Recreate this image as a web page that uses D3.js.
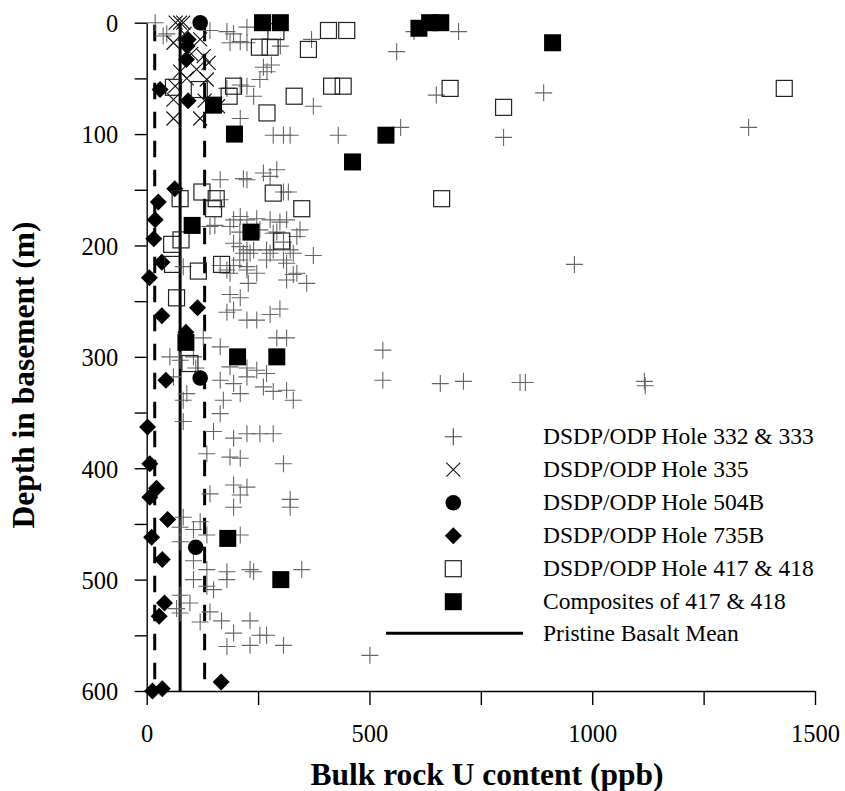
<!DOCTYPE html>
<html>
<head>
<meta charset="utf-8">
<script src="https://cdn.jsdelivr.net/npm/d3@7"></script>
<style>
  html, body { margin: 0; padding: 0; background: #fff; }
  svg { display: block; font-family: "Liberation Serif", "Times New Roman", serif; }
</style>
</head>
<body>
<svg id="chart" width="845" height="791"></svg>
<script>
// ---------- data (U ppb, depth m) ----------
const hole332_333 = [
  [19,0],[45,10],[37,12],[142,7],[180,8],[195,10],[225,4],[187,18],[210,17],[225,18],[300,21],[370,15],
  [561,26],[600,8],[700,8],[270,44],[262,40],[280,38],[254,51],[180,59],[210,56],[225,57],[240,66],
  [374,75],[210,86],[284,101],[307,101],[322,101],[430,101],[570,94],[650,65],[891,63],[801,103],[1351,94],
  [165,141],[217,140],[262,135],[277,138],[292,132],[225,141],[307,152],[318,152],[165,159],[210,174],
  [153,182],[195,177],[225,177],[247,176],[277,177],[299,179],[314,177],[187,183],[209,188],[292,188],
  [344,186],[254,186],[284,189],[142,183],[337,192],[307,197],
  [195,198],[217,207],[240,204],[277,207],[284,204],[307,213],[329,207],[374,209],[225,204],[322,204],
  [165,218],[195,218],[225,222],[187,225],[329,226],[359,234],[228,234],[209,201],[232,207],[269,204],
  [209,213],[225,219],[180,222],[247,225],[269,213],[314,216],[337,225],[314,231],[82,219],[187,244],
  [210,247],[195,258],[180,260],[225,267],[247,267],[277,262],[299,257],[314,283],[292,283],[127,283],
  [960,217],[530,294],
  [52,300],[75,303],[105,300],[165,291],[187,309],[225,310],[247,312],[269,315],[165,321],[195,324],
  [225,318],[262,327],[284,331],[314,330],[329,339],[172,339],[210,333],[90,333],[82,339],[82,358],
  [165,351],[150,367],[195,373],[225,369],[254,369],[284,369],[135,387],[187,390],[210,391],[307,396],
  [530,321],[659,324],[711,322],[838,323],[850,323],[1117,322],[1119,326],[110,310],[60,318],
  [195,415],[225,417],[142,423],[322,428],[210,424],[195,435],[322,435],[82,444],[120,448],[75,453],
  [105,455],[135,460],[210,460],[75,466],[105,483],[135,491],[180,493],[180,500],[232,491],[240,493],
  [348,491],[105,500],[135,506],[150,509],[75,514],[97,521],[67,526],[75,530],[142,529],[120,538],
  [168,537],[232,537],[195,548],[254,550],[269,550],[180,560],[232,559],[307,559],[501,568]
];
const hole335 = [
  [75,0],[65,0],[82,0],[60,18],[120,15],[128,30],[139,36],[112,42],[75,44],[90,50],[64,57],[135,51],
  [60,69],[60,86],[120,86],[130,70],[100,28],[85,10],[160,75]
];
const hole504B = [[120,0],[120,319],[110,471]];
const hole735B = [
  [93,15],[91,21],[89,33],[30,60],[93,70],[63,149],[26,161],[19,177],[16,194],[34,215],[6,229],[34,263],
  [114,256],[88,278],[43,321],[2,363],[7,396],[22,418],[7,426],[47,446],[11,462],[35,482],[40,521],
  [28,533],[13,600],[35,598],[167,592]
];
const hole417_418 = [
  [408,7],[449,7],[253,22],[277,22],[290,8],[363,24],[195,57],[185,66],[331,66],[415,57],[441,57],
  [270,81],[60,58],[118,60],[75,158],[124,152],[156,158],[150,167],[284,153],[348,167],[77,195],
  [56,199],[303,196],[168,217],[58,217],[116,223],[67,247],[97,306],[681,59],[801,76],[1431,59],[662,158]
];
const composites417_418 = [
  [260,0],[300,0],[611,5],[635,0],[660,0],[911,18],[150,74],[197,100],[537,101],[462,125],[102,182],
  [234,188],[88,287],[204,300],[292,300],[182,463],[301,500]
];
const pristineMean = 75;
const pristineRange = [18, 130];
const xTickValues = [0, 250, 500, 750, 1000, 1250, 1500];
const xTickLabels = [0, 500, 1000, 1500];
const yTickValues = [0, 50, 100, 150, 200, 250, 300, 350, 400, 450, 500, 550, 600];
const yTickLabels = [0, 100, 200, 300, 400, 500, 600];
const legendLabels = [
  "DSDP/ODP Hole 332 & 333", "DSDP/ODP Hole 335", "DSDP/ODP Hole 504B", "DSDP/ODP Hole 735B",
  "DSDP/ODP Hole 417 & 418", "Composites of 417 & 418", "Pristine Basalt Mean"
];

// ---------- layout ----------
const svg = d3.select("#chart");
const x = d3.scaleLinear().domain([0, 1500]).range([146.7, 815]);
const y = d3.scaleLinear().domain([0, 600]).range([22.7, 691]);

// reference lines
const refG = svg.append("g");
refG.append("line")
  .attr("x1", x(pristineMean)).attr("x2", x(pristineMean))
  .attr("y1", y(0)).attr("y2", y(600))
  .attr("stroke", "#000").attr("stroke-width", 3);
refG.selectAll("line.dash").data(pristineRange).join("line").attr("class", "dash")
  .attr("x1", d => x(d)).attr("x2", d => x(d))
  .attr("y1", y(0) + 2).attr("y2", y(600))
  .attr("stroke", "#000").attr("stroke-width", 3)
  .attr("stroke-dasharray", "16.5,12.5");

// marker shapes
const plusPath = "M-8.5,0H8.5M0,-8.5V8.5";
const xPath = "M-7,-7L7,7M-7,7L7,-7";
const diamondPath = "M0,-8.5L8.5,0L0,8.5L-8.5,0Z";

const markG = svg.append("g");
markG.append("g").selectAll("path").data(hole332_333).join("path")
  .attr("d", plusPath).attr("transform", d => `translate(${x(d[0])},${y(d[1])})`)
  .attr("fill", "none").attr("stroke", "#666").attr("stroke-width", 1.1);
markG.append("g").selectAll("path").data(hole335).join("path")
  .attr("d", xPath).attr("transform", d => `translate(${x(d[0])},${y(d[1])})`)
  .attr("fill", "none").attr("stroke", "#111").attr("stroke-width", 1.1);
markG.append("g").selectAll("circle").data(hole504B).join("circle")
  .attr("cx", d => x(d[0])).attr("cy", d => y(d[1])).attr("r", 7.8).attr("fill", "#000");
markG.append("g").selectAll("path").data(hole735B).join("path")
  .attr("d", diamondPath).attr("transform", d => `translate(${x(d[0])},${y(d[1])})`)
  .attr("fill", "#000");
markG.append("g").selectAll("rect").data(hole417_418).join("rect")
  .attr("x", d => x(d[0]) - 8).attr("y", d => y(d[1]) - 8).attr("width", 16).attr("height", 16)
  .attr("fill", "none").attr("stroke", "#222").attr("stroke-width", 1.2);
markG.append("g").selectAll("rect").data(composites417_418).join("rect")
  .attr("x", d => x(d[0]) - 8.5).attr("y", d => y(d[1]) - 8.5).attr("width", 17).attr("height", 17)
  .attr("fill", "#000");

// axes
const xAxis = d3.axisBottom(x).tickValues(xTickValues)
  .tickFormat(d => xTickLabels.includes(d) ? d : "").tickSizeInner(14).tickSizeOuter(0);
const gx = svg.append("g").attr("transform", `translate(0,${y(600)})`).call(xAxis);
gx.selectAll("text").attr("y", 51).attr("dy", 0).attr("font-size", 24.5)
  .attr("font-family", "Liberation Serif").attr("fill", "#000");

const yAxis = d3.axisLeft(y).tickValues(yTickValues)
  .tickFormat(d => yTickLabels.includes(d) ? d : "").tickSizeInner(12).tickSizeOuter(0);
const gy = svg.append("g").attr("transform", `translate(${x(0)},0)`).call(yAxis);
gy.selectAll("text").attr("x", -28.5).attr("dy", "0.36em").attr("font-size", 24.5)
  .attr("font-family", "Liberation Serif").attr("fill", "#000");
svg.selectAll(".domain, .tick line").attr("stroke", "#000").attr("stroke-width", 1.4);

// axis titles
svg.append("text").attr("x", 487).attr("y", 785).attr("text-anchor", "middle")
  .attr("font-weight", "bold").attr("font-size", 31.5).text("Bulk rock U content (ppb)");
svg.append("text").attr("transform", "translate(34,375) rotate(-90)").attr("text-anchor", "middle")
  .attr("font-weight", "bold").attr("font-size", 31.5).text("Depth in basement (m)");

// legend
const legY0 = 436.7, legStep = 33, legSymX = 453.3, legTextX = 543;
const leg = svg.append("g");
const sym = [
  g => g.append("path").attr("d", plusPath).attr("stroke", "#444").attr("stroke-width", 1.1).attr("fill", "none"),
  g => g.append("path").attr("d", xPath).attr("stroke", "#111").attr("stroke-width", 1.1).attr("fill", "none"),
  g => g.append("circle").attr("r", 7.8).attr("fill", "#000"),
  g => g.append("path").attr("d", diamondPath).attr("fill", "#000"),
  g => g.append("rect").attr("x", -8).attr("y", -8).attr("width", 16).attr("height", 16)
        .attr("fill", "none").attr("stroke", "#222").attr("stroke-width", 1.2),
  g => g.append("rect").attr("x", -8.5).attr("y", -8.5).attr("width", 17).attr("height", 17).attr("fill", "#000"),
  g => g.append("line").attr("x1", 386 - legSymX).attr("x2", 523 - legSymX).attr("stroke", "#000").attr("stroke-width", 3)
];
legendLabels.forEach((lab, i) => {
  const cy = legY0 + i * legStep - (i === 6 ? 1.5 : 0);
  const g = leg.append("g").attr("transform", `translate(${legSymX},${cy})`);
  sym[i](g);
  leg.append("text").attr("x", legTextX).attr("y", cy + 7.6).attr("font-size", 23.5)
    .attr("fill", "#000").text(lab);
});
</script>
</body>
</html>
